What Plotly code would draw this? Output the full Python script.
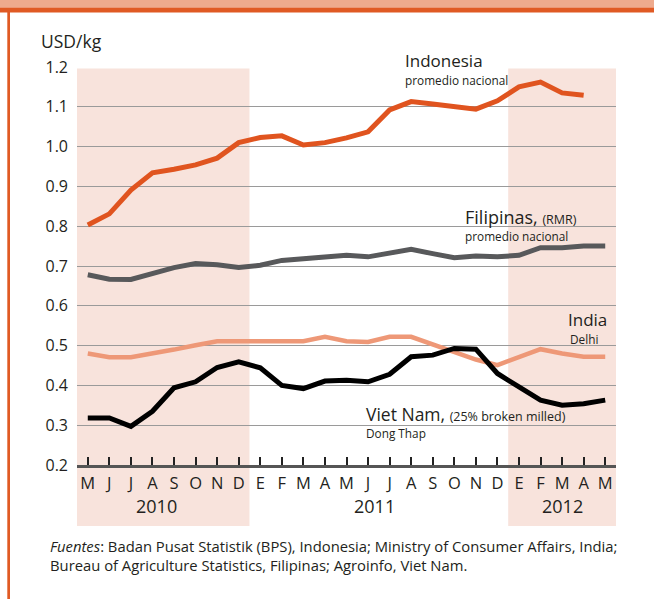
import plotly.graph_objects as go

# ---------------- data ----------------
months = ["M", "J", "J", "A", "S", "O", "N", "D",
          "E", "F", "M", "A", "M", "J", "J", "A", "S", "O", "N", "D",
          "E", "F", "M", "A", "M"]
years = ["2010", "2011", "2012"]
year_centers = [3.2, 13.3, 22.0]
shade_spans = [(-0.5, 7.5), (19.5, 24.5)]

indonesia = [0.803, 0.831, 0.891, 0.934, 0.943, 0.954, 0.971, 1.010, 1.023, 1.027,
             1.004, 1.010, 1.022, 1.037, 1.092, 1.113, 1.107, 1.100, 1.094, 1.115,
             1.150, 1.162, 1.135, 1.129, None]
filipinas = [0.678, 0.667, 0.666, 0.682, 0.696, 0.706, 0.703, 0.696, 0.702, 0.714,
             0.718, 0.723, 0.727, 0.723, 0.734, 0.742, 0.731, 0.721, 0.725, 0.723,
             0.727, 0.746, 0.746, 0.750, 0.750]
india = [0.480, 0.471, 0.471, 0.480, 0.490, 0.501, 0.511, 0.511, 0.511, 0.511,
         0.511, 0.522, 0.511, 0.509, 0.522, 0.522, 0.504, 0.484, 0.465, 0.451,
         0.472, 0.491, 0.480, 0.472, 0.472]
vietnam = [0.318, 0.318, 0.297, 0.335, 0.394, 0.409, 0.445, 0.459, 0.444, 0.400,
           0.392, 0.411, 0.413, 0.409, 0.428, 0.472, 0.476, 0.493, 0.491, 0.430,
           0.396, 0.363, 0.350, 0.354, 0.363]
y_ticks = [0.2, 0.3, 0.4, 0.5, 0.6, 0.7, 0.8, 0.9, 1.0, 1.1, 1.2]

# ---------------- layout constants ----------------
W, H = 654, 599
L, R, T, B = 77, 38, 67, 134
PW, PH = W - L - R, H - T - B
FONT = "Open Sans"
TXT = "#231F20"


def px(x):
    return (x - L) / PW


def py(y):
    return 1 - (y - T) / PH


x = list(range(len(months)))
fig = go.Figure()

series = [
    (india, "#EE9877", 4.5),
    (filipinas, "#58595B", 5),
    (indonesia, "#E0541F", 5),
    (vietnam, "#000000", 5),
]
for vals, col, w in series:
    fig.add_trace(go.Scatter(x=x, y=vals, mode="lines",
                             line=dict(color=col, width=w),
                             connectgaps=False, hoverinfo="skip"))

shapes = []
# shaded years
for a, b in shade_spans:
    shapes.append(dict(type="rect", xref="x", yref="paper", x0=a, x1=b,
                       y0=py(526), y1=py(68.5), fillcolor="#F8E3DC",
                       line=dict(width=0), layer="below"))
# frame
shapes.append(dict(type="rect", xref="paper", yref="paper", x0=px(0), x1=px(W),
                   y0=py(7.5), y1=py(0), fillcolor="#EEAA8D", line=dict(width=0)))
shapes.append(dict(type="rect", xref="paper", yref="paper", x0=px(0), x1=px(W),
                   y0=py(12.5), y1=py(7.5), fillcolor="#E05A24", line=dict(width=0)))
shapes.append(dict(type="rect", xref="paper", yref="paper", x0=px(7.3), x1=px(10),
                   y0=py(H), y1=py(12), fillcolor="#E05A24", line=dict(width=0)))

annotations = []


def ann(text, xp, yp, size, anchor="left", color=TXT):
    annotations.append(dict(text=text, xref="paper", yref="paper", x=px(xp), y=py(yp),
                            xanchor=anchor, yanchor="middle", showarrow=False,
                            borderpad=0,
                            font=dict(family=FONT, size=size, color=color)))


ann("USD/kg", 40, 41, 17.5)
ann("Indonesia", 404, 60.5, 17)
ann("promedio nacional", 404, 80, 11.8)
ann("Filipinas, <span style='font-size:12.5px'>(RMR)</span>", 464, 216.5, 18)
ann("promedio nacional", 464, 236, 11.8)
ann("India", 608, 319.5, 17, anchor="right")
ann("Delhi", 569, 339, 11.8)
ann("Viet Nam, <span style='font-size:12.5px'>(25% broken milled)</span>", 365, 413.5, 17.5)
ann("Dong Thap", 365, 433, 11.8)
for yr, c in zip(years, year_centers):
    annotations.append(dict(text=yr, xref="x", yref="paper", x=c, y=py(505.5),
                            xanchor="center", yanchor="middle", showarrow=False,
                            font=dict(family=FONT, size=18, color=TXT)))
ann("<i>Fuentes</i>: Badan Pusat Statistik (BPS), Indonesia; Ministry of Consumer Affairs, India;",
    49, 546, 14.8)
ann("Bureau of Agriculture Statistics, Filipinas; Agroinfo, Viet Nam.", 49, 565, 14.8)

fig.update_layout(
    width=W, height=H,
    margin=dict(l=L, r=R, t=T, b=B, pad=0),
    paper_bgcolor="white", plot_bgcolor="rgba(0,0,0,0)",
    showlegend=False,
    shapes=shapes, annotations=annotations,
    font=dict(family=FONT, color=TXT),
    xaxis=dict(range=[-0.5, 24.5], tickmode="array", tickvals=x, ticktext=months,
               ticks="inside", ticklen=8, tickwidth=1.6, tickcolor="#222222",
               showgrid=False, zeroline=False, showline=True, linecolor="#555555",
               linewidth=3, tickfont=dict(family=FONT, size=16.5, color=TXT),
               ticklabelstandoff=1, fixedrange=True),
    yaxis=dict(range=[0.2, 1.2], tickmode="array", tickvals=y_ticks,
               ticktext=[f"{v:.1f}" for v in y_ticks], ticks="",
               showgrid=True, gridcolor="#9A9A9A", gridwidth=1.3, zeroline=False,
               showline=False, tickfont=dict(family=FONT, size=16, color=TXT),
               ticklabelstandoff=8, fixedrange=True),
)

fig.write_html("out.html", config={"displayModeBar": False},
               post_script="document.body.style.margin='0px';document.body.style.padding='0px';")
